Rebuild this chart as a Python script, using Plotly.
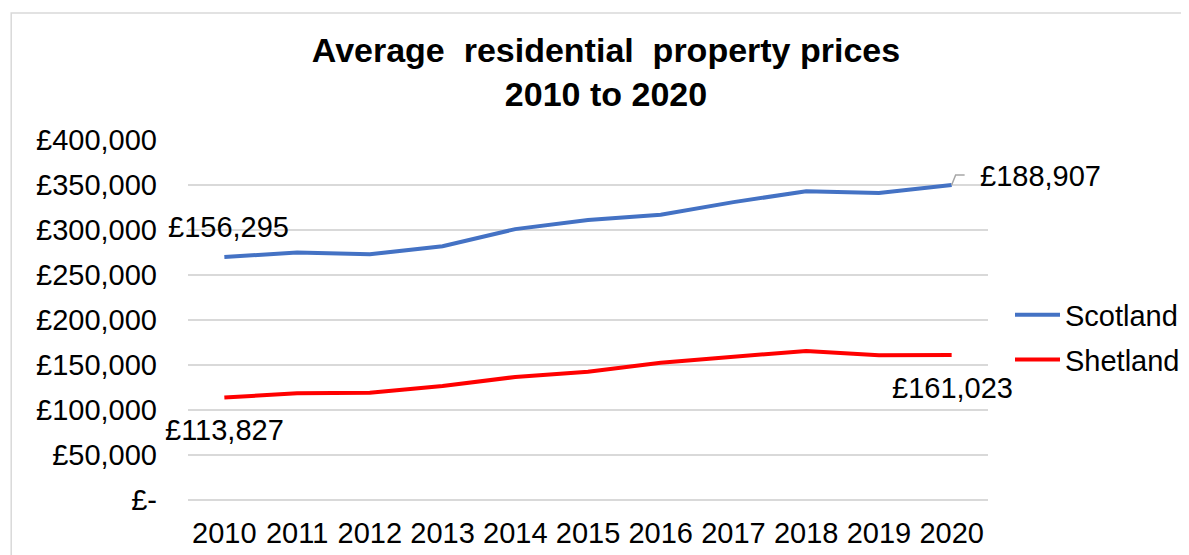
import plotly.graph_objects as go

years = [2010, 2011, 2012, 2013, 2014, 2015, 2016, 2017, 2018, 2019, 2020]
scotland = [270000, 275000, 273000, 282000, 301000, 311000, 317000, 331000, 343000, 341000, 350000]
shetland = [113827, 118500, 119200, 126700, 136700, 142500, 152600, 159200, 165600, 160700, 161023]
scotland_labels = ["£156,295", "£188,907"]
shetland_labels = ["£113,827", "£161,023"]
y_tickvals = [0, 50000, 100000, 150000, 200000, 250000, 300000, 350000, 400000]
y_ticktext = ["£-", "£50,000", "£100,000", "£150,000", "£200,000", "£250,000", "£300,000", "£350,000", "£400,000"]

FONT = "Liberation Sans, Arial, sans-serif"
FS = 29

fig = go.Figure()
fig.add_trace(go.Scatter(x=years, y=scotland, mode="lines", name="Scotland",
                         line=dict(color="#4472C4", width=4), legendgroup="a"))
fig.add_trace(go.Scatter(x=years, y=shetland, mode="lines", name="Shetland",
                         line=dict(color="#FF0000", width=4), legendgroup="b"))

lab_font = dict(size=FS, family=FONT, color="#000")
fig.add_annotation(x=years[0], y=scotland[0], text=scotland_labels[0], showarrow=False,
                   yshift=30, xshift=4, font=lab_font)
fig.add_annotation(x=years[-1], y=scotland[-1], text=scotland_labels[-1], showarrow=False,
                   xanchor="left", xshift=26, yshift=9, font=lab_font)
fig.add_annotation(x=years[0], y=shetland[0], text=shetland_labels[0], showarrow=False,
                   yshift=-32, font=lab_font)
fig.add_annotation(x=years[-1], y=shetland[-1], text=shetland_labels[-1], showarrow=False,
                   yshift=-33, xshift=1, font=lab_font)

# leader line for Scotland 2020 label
fig.add_shape(type="path", xref="x", yref="y", xsizemode="pixel", ysizemode="pixel",
              xanchor=years[-1], yanchor=scotland[-1],
              path="M 0,0 L 4,10 L 13,10", line=dict(color="#A6A6A6", width=1.5))

# outer chart border
fig.add_shape(type="rect", xref="paper", yref="paper", x0=-0.221, x1=1.3, y0=-0.3, y1=1.353,
              line=dict(color="#D9D9D9", width=1.5), fillcolor="rgba(0,0,0,0)", layer="below")

fig.update_layout(
    width=1181, height=547,
    margin=dict(l=180, r=201, t=132, b=55, autoexpand=False),
    paper_bgcolor="white", plot_bgcolor="white",
    font=dict(family=FONT, size=FS, color="#000"),
    title=dict(text="<b>Average  residential  property prices<br>2010 to 2020</b>",
               x=598 / 1181, xanchor="center", y=1 - 54 / 547, yanchor="middle",
               font=dict(size=34, family=FONT, color="#000")),
    showlegend=True,
    legend=dict(x=1.0275, y=0.585, xanchor="left", yanchor="top", tracegroupgap=4,
                itemwidth=45, font=dict(size=FS, family=FONT), bgcolor="rgba(0,0,0,0)"),
    xaxis=dict(range=[2009.5, 2020.5], tickvals=years, ticktext=[str(y) for y in years],
               showgrid=False, showline=False, zeroline=False, ticks="", automargin=False,
               tickfont=dict(size=FS, family=FONT), ticklabelstandoff=13),
    yaxis=dict(range=[0, 400000], tickvals=y_tickvals, ticktext=y_ticktext,
               showgrid=True, gridcolor="#D9D9D9", gridwidth=1.5,
               zeroline=True, zerolinecolor="#D9D9D9", zerolinewidth=1.5, automargin=False,
               showline=False, ticks="", tickfont=dict(size=FS, family=FONT),
               ticklabelstandoff=30),
)

fig.write_html("out.html")
